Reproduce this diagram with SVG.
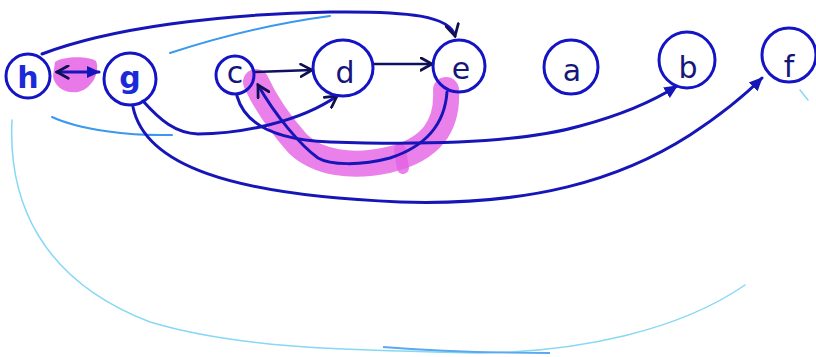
<svg xmlns="http://www.w3.org/2000/svg" width="816" height="357" viewBox="0 0 816 357">
<defs>
<style>
.node{fill:none;stroke:#1414c4;stroke-width:3}
.lbl{font-family:"DejaVu Sans",sans-serif;font-size:30px;fill:#16167a;text-anchor:middle}
.lbl2{font-family:"DejaVu Sans",sans-serif;font-size:30px;font-weight:bold;fill:#1a2ad8;text-anchor:middle}
.edge{fill:none;stroke:#1616b8;stroke-width:3;stroke-linecap:round}
.dark{fill:none;stroke:#101060;stroke-width:2.5;stroke-linecap:round}
.light{fill:none;stroke:#3a98ee;stroke-width:2;stroke-linecap:round}
.cyan{fill:none;stroke:#86d8f4;stroke-width:1.5;stroke-linecap:round}
.hl{fill:none;stroke:#e560e5;stroke-linecap:round;stroke-linejoin:round;opacity:0.8}
</style>
<marker id="open" viewBox="0 0 12 12" refX="10" refY="6" markerWidth="15" markerHeight="15" markerUnits="userSpaceOnUse" orient="auto-start-reverse">
<path d="M1,1 L10,6 L1,11" fill="none" stroke="#101050" stroke-width="2.2" stroke-linecap="round"/>
</marker>
<marker id="solid" viewBox="0 0 12 12" refX="10" refY="6" markerWidth="15" markerHeight="15" markerUnits="userSpaceOnUse" orient="auto-start-reverse">
<path d="M0,1 L11,6 L0,11 Z" fill="#1616b8"/>
</marker>
</defs>
<rect width="816" height="357" fill="#ffffff"/>
<g id="highlights">
<path class="hl" stroke-width="26" d="M446 90 C448 125,432 150,388 160 C352 168,318 163,298 144 C280 124,266 104,256 82"/>
<path class="hl" stroke-width="12" d="M400 150 L403 168"/>
<path d="M55 62 C64 56,88 56,96 61 C100 70,94 88,78 92 C64 94,54 86,53 76 Z" fill="#e560e5" opacity="0.85"/>
</g>
<g id="connectors">
<path class="cyan" d="M12 120 C8 200,40 280,150 322 C250 352,380 350,480 353 C580 352,680 330,745 285"/>
<path fill="none" stroke="#5aa8f0" stroke-width="1.8" d="M383 347 C420 350,470 353,550 353"/>
<path class="cyan" d="M800 90 L808 100"/>
<path class="light" d="M170 53 C210 40,270 24,330 16"/>
<path class="light" d="M52 117 C80 130,130 136,172 135"/>
<path class="edge" d="M42 54 C110 28,220 14,330 12 C410 11,450 16,455 36" marker-end="url(#open)"/>
<path class="edge" d="M57 72 L99 72" marker-start="url(#open)" marker-end="url(#solid)"/>
<path class="dark" d="M255 72 L312 70" marker-end="url(#open)"/>
<path class="dark" d="M373 64 L432 64" marker-end="url(#open)"/>
<path class="edge" d="M143 101 C160 120,175 133,198 134 C240 134,300 122,337 96" marker-end="url(#open)"/>
<path class="edge" d="M133 107 C145 165,230 195,400 202 C530 206,620 180,690 135 C725 112,745 95,762 78" marker-end="url(#solid)"/>
<path class="edge" d="M237 96 C245 125,275 140,330 142 C420 145,520 143,580 126 C625 114,655 100,677 86" marker-end="url(#solid)"/>
<path class="edge" d="M447 92 C445 120,430 145,390 158 C360 166,330 165,318 158 C300 145,275 115,258 85" marker-end="url(#open)"/>
</g>
<g id="node-h"><circle class="node" cx="28" cy="76" r="22"/><text class="lbl2" x="28" y="88">h</text></g>
<g id="node-g"><circle class="node" cx="130" cy="79" r="26"/><text class="lbl2" x="130" y="88">g</text></g>
<g id="node-c"><circle class="node" cx="235" cy="75" r="19"/><text class="lbl" x="235" y="83">c</text></g>
<g id="node-d"><ellipse class="node" cx="343" cy="68" rx="30" ry="28"/><text class="lbl" x="345" y="83" font-size="34">d</text></g>
<g id="node-e"><circle class="node" cx="459" cy="66" r="26"/><text class="lbl" x="461" y="79">e</text></g>
<g id="node-a"><circle class="node" cx="571" cy="67" r="27"/><text class="lbl" x="572" y="81">a</text></g>
<g id="node-b"><circle class="node" cx="687" cy="60" r="28"/><text class="lbl" x="688" y="78">b</text></g>
<g id="node-f"><circle class="node" cx="789" cy="55" r="27"/><text class="lbl" x="789" y="77">f</text></g>
</svg>
